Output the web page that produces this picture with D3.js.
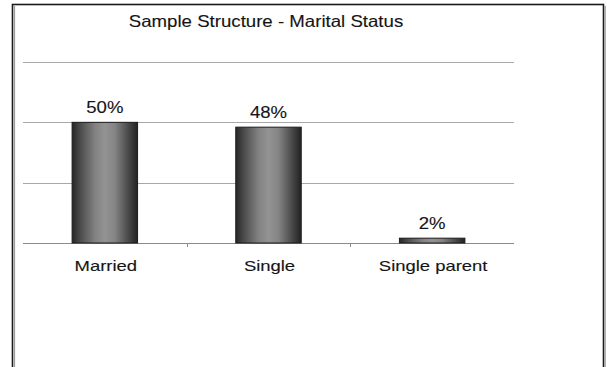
<!DOCTYPE html>
<html>
<head>
<meta charset="utf-8">
<script src="https://cdn.jsdelivr.net/npm/d3@7/dist/d3.min.js"></script>
<style>
  html, body { margin: 0; padding: 0; background: #ffffff; }
  svg { display: block; }
  text { font-family: "Liberation Sans", Arial, sans-serif; fill: #151515; stroke: #151515; stroke-width: 0.12px; }
</style>
</head>
<body>
<svg id="chart" width="607" height="367"></svg>
<script>
// Marital status breakdown of the sample
const categories = ["Married", "Single", "Single parent"];
const shares = [0.50, 0.48, 0.02];
const valueLabels = ["50%", "48%", "2%"];
const gridTicks = [0, 0.25, 0.50, 0.75];
const title = "Sample Structure - Marital Status";

const W = 607, H = 367;
const plot = { left: 23, right: 514, top: 62, bottom: 243 };

const svg = d3.select("#chart");

// Bar shading: dark edges, lighter centre
const defs = svg.append("defs");
const grad = defs.append("linearGradient")
  .attr("id", "barShade")
  .attr("x1", "0%").attr("x2", "100%").attr("y1", "0%").attr("y2", "0%");
[
  [0, "#262626"], [0.12, "#4a4a4a"], [0.35, "#828282"], [0.5, "#939393"],
  [0.65, "#858585"], [0.85, "#4c4c4c"], [1, "#222222"]
].forEach(([o, c]) => grad.append("stop").attr("offset", o).attr("stop-color", c));

// Frame around the chart
svg.append("rect")
  .attr("x", 12.5).attr("y", 4.5).attr("width", 591).attr("height", H + 10)
  .attr("fill", "none").attr("stroke", "#1a1a1a").attr("stroke-width", 1.6);
svg.append("line")
  .attr("x1", 14.5).attr("x2", 14.5).attr("y1", 6).attr("y2", H)
  .attr("stroke", "#9a9a9a").attr("stroke-width", 1.2);
svg.append("line")
  .attr("x1", 605.2).attr("x2", 605.2).attr("y1", 6).attr("y2", H)
  .attr("stroke", "#9a9a9a").attr("stroke-width", 1.2);

const x = d3.scaleBand()
  .domain(categories)
  .range([plot.left, plot.right])
  .paddingInner(0.6)
  .paddingOuter(0.3);

const y = d3.scaleLinear()
  .domain([0, 0.75])
  .range([plot.bottom, plot.top]);

// Horizontal gridlines
svg.append("g")
  .selectAll("line")
  .data(gridTicks)
  .join("line")
  .attr("x1", plot.left).attr("x2", plot.right)
  .attr("y1", d => Math.round(y(d)) + 0.5).attr("y2", d => Math.round(y(d)) + 0.5)
  .attr("stroke", d => d === 0 ? "#8a8a8a" : "#a8a8a8")
  .attr("stroke-width", 1);

// Category boundary ticks below the baseline
const step = x.step();
const boundaries = categories.slice(1).map(c => x(c) - step * x.paddingInner() / 2);
svg.append("g")
  .selectAll("line")
  .data(boundaries)
  .join("line")
  .attr("x1", d => Math.round(d) + 0.5).attr("x2", d => Math.round(d) + 0.5)
  .attr("y1", y(0)).attr("y2", y(0) + 4)
  .attr("stroke", "#8a8a8a");

// Bars
const rows = categories.map((c, i) => ({ cat: c, v: shares[i], label: valueLabels[i] }));
svg.append("g")
  .selectAll("rect")
  .data(rows)
  .join("rect")
  .attr("x", d => x(d.cat))
  .attr("y", d => y(d.v))
  .attr("width", x.bandwidth())
  .attr("height", d => y(0) - y(d.v))
  .attr("fill", "url(#barShade)")
  .attr("stroke", "#1c1c1c")
  .attr("stroke-width", 1);

// Stretched text helper
function stretchedText(g, tx, ty, str, size, sx) {
  return g.append("text")
    .attr("transform", `translate(${tx},${ty}) scale(${sx},1)`)
    .attr("text-anchor", "middle")
    .style("font-size", size + "px")
    .text(str);
}

// Value labels above bars
const valG = svg.append("g");
rows.forEach(d => {
  stretchedText(valG, x(d.cat) + x.bandwidth() / 2, y(d.v) - 9.5, d.label, 16, 1.16);
});

// Category labels
const catG = svg.append("g");
categories.forEach(c => {
  stretchedText(catG, x(c) + x.bandwidth() / 2 + 1, 271, c, 15, 1.23);
});

// Title
stretchedText(svg, 266, 26.5, title, 16.5, 1.13);
</script>
</body>
</html>
